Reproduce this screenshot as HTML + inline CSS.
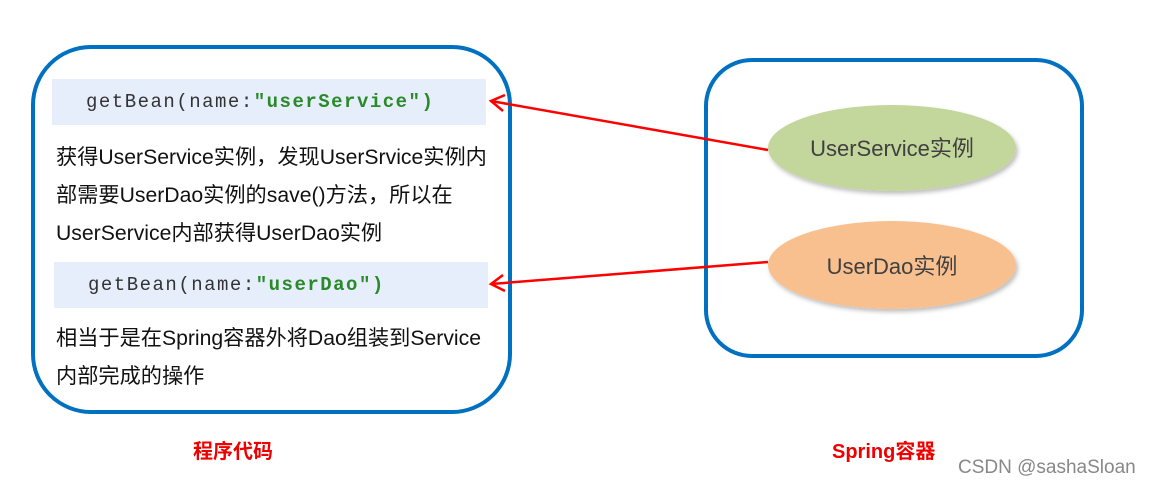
<!DOCTYPE html>
<html><head><meta charset="utf-8"><style>
body{margin:0;width:1151px;height:486px;background:#fff;position:relative;overflow:hidden;font-family:"Liberation Sans","Noto Sans CJK SC",sans-serif}
.abs{position:absolute}
.box{position:absolute;border:4px solid #0070c0;background:#fff}
.code{position:absolute;background:#e6eefb;font-family:"Liberation Mono",monospace;font-size:19px;letter-spacing:1.5px;color:#333;line-height:46px;padding-left:34px;box-sizing:border-box}
.code b{color:#2a8a2a}
.txt{position:absolute;left:56px;font-size:21.2px;color:#111;line-height:38px;white-space:nowrap}
</style></head><body>
<div class="box" style="left:31px;top:45px;width:473px;height:361px;border-radius:60px"></div>
<div class="box" style="left:704px;top:58px;width:372px;height:292px;border-radius:48px"></div>
<div class="code" style="left:52px;top:79px;width:434px;height:46px">getBean(name:<b>"userService")</b></div>
<div class="txt" style="top:139px">获得UserService实例，发现UserSrvice实例内<br>部需要UserDao实例的save()方法，所以在<br>UserService内部获得UserDao实例</div>
<div class="code" style="left:54px;top:262px;width:434px;height:46px">getBean(name:<b>"userDao")</b></div>
<div class="txt" style="top:320px">相当于是在Spring容器外将Dao组装到Service<br>内部完成的操作</div>
<svg class="abs" style="left:0;top:0" width="1151" height="486">
<defs><filter id="s"><feDropShadow dx="2" dy="3" stdDeviation="2" flood-opacity="0.25"/></filter></defs>
<ellipse cx="892" cy="148" rx="124" ry="43" fill="#c3d69b" filter="url(#s)"/>
<ellipse cx="892" cy="265" rx="124" ry="44" fill="#f9c08f" filter="url(#s)"/>
<text x="892" y="156" font-size="22" fill="#404040" text-anchor="middle" font-family="Liberation Sans,Noto Sans CJK SC,sans-serif">UserService实例</text>
<text x="892" y="274" font-size="22" fill="#404040" text-anchor="middle" font-family="Liberation Sans,Noto Sans CJK SC,sans-serif">UserDao实例</text>
<g stroke="#f00" stroke-width="2.5" fill="none">
<line x1="768" y1="150" x2="491" y2="101"/>
<polyline points="505,95 491,101 503,111"/>
<line x1="768" y1="262" x2="491" y2="284"/>
<polyline points="503,275 491,284 505,291"/>
</g>
</svg>
<div class="abs" style="left:193px;top:435px;font-size:20px;font-weight:bold;color:#e00">程序代码</div>
<div class="abs" style="left:832px;top:435px;font-size:20px;font-weight:bold;color:#e00">Spring容器</div>
<div class="abs" style="left:958px;top:457px;font-size:19px;color:#888">CSDN @sashaSloan</div>
</body></html>
